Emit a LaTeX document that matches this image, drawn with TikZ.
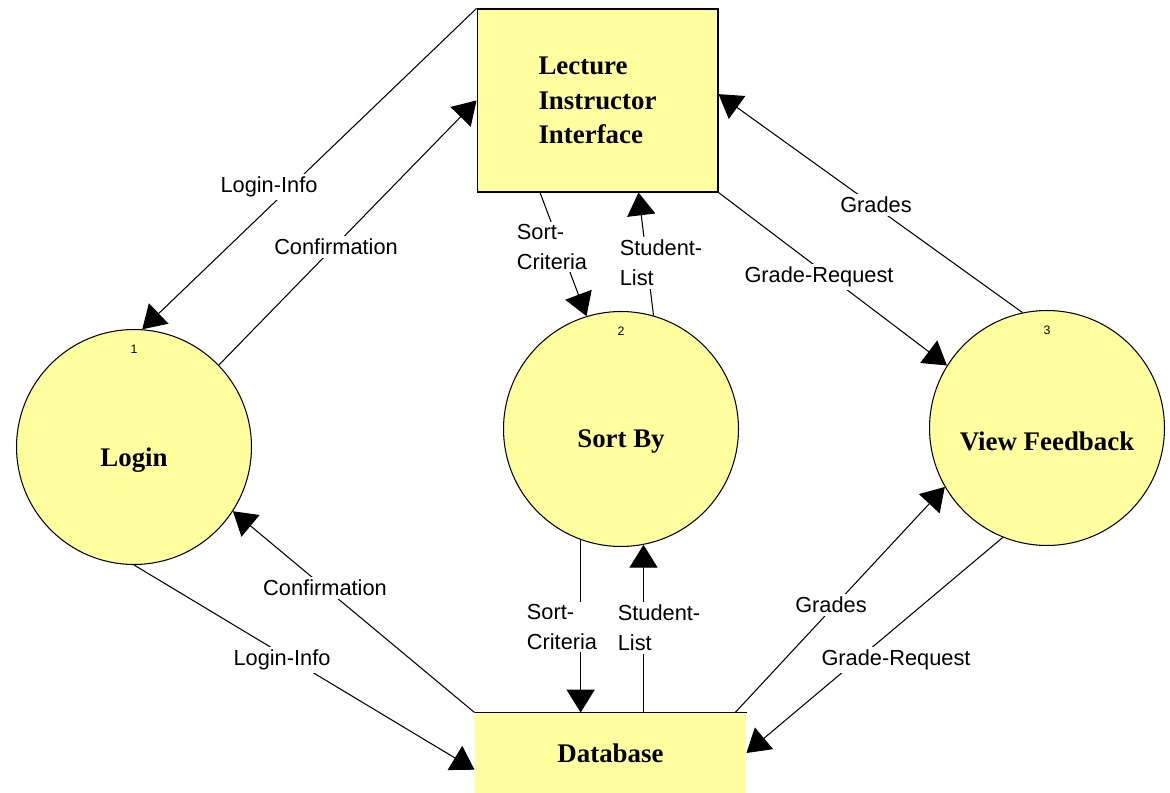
\documentclass[tikz,border=0pt]{standalone}
\usepackage{fontspec}
\usepackage{xcolor}
\usepackage{tikz}
\usetikzlibrary{arrows.meta}
\setmainfont{Liberation Serif}
\newfontfamily\lblfont{Liberation Sans}
\definecolor{procfill}{RGB}{255,255,160}

\begin{document}
\begin{tikzpicture}[x=0.02cm, y=-0.02cm,
  proc/.style={circle, draw, fill=procfill, minimum size=4.7cm, inner sep=0pt, line width=0.6pt},
  entity/.style={rectangle, fill=procfill, inner sep=0pt, line width=0.6pt, font=\fontsize{15.3}{19.8}\selectfont\bfseries},
  flow/.style={-{Triangle[length=13pt,width=16pt]}, line width=0.6pt},
  lbl/.style={fill=white, inner sep=1.5pt, align=left, font=\lblfont\fontsize{12.4}{17}\selectfont},
  pnum/.style={anchor=center, yshift=-0.4cm, font=\lblfont\fontsize{7}{8}\selectfont},
  ptitle/.style={anchor=center, yshift=-0.26cm, font=\fontsize{15.3}{18}\selectfont\bfseries}]
\useasboundingbox (0,0) rectangle (1170,793);
% Interface and data store
\node[entity, draw, minimum width=4.82cm, minimum height=3.66cm, align=left] (lii) at (597.5,100.5) {Lecture\\Instructor\\Interface};
\node[entity, minimum width=5.42cm, minimum height=1.6cm] (db) at (610.5,753) {Database};
\draw[line width=0.6pt] (db.north west) -- (db.north east);
% Processes
\node[proc, label={[pnum]north:1}, label={[ptitle]center:Login}] (login) at (134,447) {};
\node[proc, label={[pnum]north:2}, label={[ptitle]center:Sort By}] (sort) at (621,429) {};
\node[proc, label={[pnum]north:3}, label={[ptitle]center:View Feedback}] (view) at (1047,428) {};
% Flows with the interface
\draw[flow] (lii.north west) -- (login.86) node[lbl] at (269,187) {Login-Info};
\draw[flow] (login.44) -- (lii.west) node[lbl] at (336,247) {Confirmation};
\draw[flow] (lii.238) -- (sort.107) node[lbl] at (552,247) {Sort-\\Criteria};
\draw[flow] (sort.74) -- (lii.294) node[lbl] at (661,263) {Student-\\List};
\draw[flow] (view.102) -- (lii.3) node[lbl] at (876,205) {Grades};
\draw[flow] (lii.south east) -- (view.148) node[lbl] at (819,277) {Grade-Request};
% Flows with the database
\draw[flow] (db.north west) -- (login.-33) node[lbl] at (325,588) {Confirmation};
\draw[flow] (login.south) -- (db.187) node[lbl] at (282,660) {Login-Info};
\draw[flow] (sort.-110) -- (sort.-110 |- db.north) node[lbl] at (562,627) {Sort-\\Criteria};
\draw[flow] (sort.-79 |- db.north) -- (sort.-79) node[lbl] at (659,628) {Student-\\List};
\draw[flow] (db.18) -- (view.210) node[lbl] at (831,605) {Grades};
\draw[flow] (view.248) -- (db.east) node[lbl] at (896,660) {Grade-Request};
\end{tikzpicture}
\end{document}
